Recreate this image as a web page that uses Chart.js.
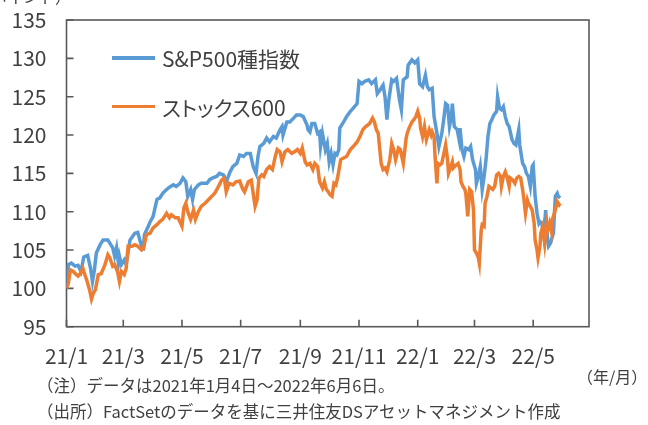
<!DOCTYPE html>
<html><head><meta charset="utf-8">
<script src="https://cdn.jsdelivr.net/npm/chart.js@4.4.1/dist/chart.umd.min.js"></script>
<style>
html,body{margin:0;padding:0;background:#fff;}
#wrap{position:relative;width:648px;height:425px;overflow:hidden;font-family:"Noto Sans CJK JP",sans-serif;color:#404040;}
canvas{position:absolute;left:0;top:0;}
.note{position:absolute;white-space:nowrap;font-size:16.5px;line-height:20px;}
.lg{position:absolute;left:112px;height:28px;display:flex;align-items:center;font-size:21px;font-feature-settings:"palt";white-space:nowrap;}
.sw{display:inline-block;width:43px;height:3.5px;margin-right:7px;}
</style></head>
<body><div id="wrap"><canvas id="c" width="648" height="425"></canvas>
<div class="note" id="unit" style="left:-25px;top:-12px;line-height:16px;font-size:16px;">（ポイント）</div>
<div class="note" id="xunit" style="left:577px;top:366px;font-size:16px;">（年/月）</div>
<div class="note" id="n1" style="left:37px;top:375px;">（注）データは2021年1月4日～2022年6月6日。</div>
<div class="note" id="n2" style="left:37px;top:401px;">（出所）FactSetのデータを基に三井住友DSアセットマネジメント作成</div>
<div id="legend"></div>
</div>
<script>
// days counted from 2021-01-04
const seriesNames = ['S&P500種指数', 'ストックス600'];
const tickDays = [0, 59, 120, 181, 243, 304, 365, 424, 485];
const tickLabels = ['21/1', '21/3', '21/5', '21/7', '21/9', '21/11', '22/1', '22/3', '22/5'];
const yTicks = [95, 100, 105, 110, 115, 120, 125, 130, 135];

const spDays = [0,2,5,9,12,15,18,22,25,27,29,31,35,38,43,46,48,50,52,54,55,57,60,62,66,71,74,78,80,81,85,87,90,94,97,100,104,107,111,114,118,121,124,126,129,131,133,137,140,146,149,152,156,159,163,166,170,173,177,180,184,187,191,194,197,199,201,205,208,211,215,218,222,224,225,229,232,236,239,243,246,250,251,253,255,258,261,263,264,266,269,271,273,275,277,279,281,283,284,288,291,295,298,302,304,307,310,314,317,321,323,326,329,331,333,335,338,340,343,346,348,350,354,355,359,362,365,367,370,373,375,377,380,382,385,387,390,392,394,396,398,400,401,403,406,408,409,411,413,415,418,420,422,425,426,428,430,432,434,436,438,440,442,444,447,448,450,452,454,456,458,460,463,465,467,470,471,474,476,478,480,482,484,485,487,489,491,492,494,496,498,500,501,503,505,506,508,510,511,513];
const spValues = [100.0,103.1,103.3,102.9,103.0,102.2,104.1,104.3,102.6,100.9,102.4,104.6,105.7,106.3,106.3,105.7,105.3,104.2,105.3,103.3,104.2,103.1,103.7,103.1,106.3,107.2,107.3,105.5,105.3,107.0,108.1,108.7,109.4,111.6,111.8,112.4,112.9,113.2,113.5,113.3,113.7,114.4,113.9,112.0,112.9,111.6,112.9,113.5,113.7,113.7,114.2,114.4,114.6,115.0,114.8,113.9,115.2,115.9,116.3,117.4,117.2,117.6,117.6,115.9,115.0,117.2,118.5,118.9,119.6,119.1,119.8,119.6,120.7,121.1,120.0,121.7,121.7,122.2,122.6,122.6,122.4,121.3,120.7,120.4,121.5,121.5,120.2,120.4,118.5,120.2,118.1,118.9,116.5,117.6,116.1,117.6,117.4,118.1,120.9,121.7,122.4,123.1,123.5,124.1,127.0,126.7,127.0,127.2,126.7,127.2,125.4,125.9,126.5,125.0,122.0,124.6,127.2,127.0,127.4,124.6,123.3,127.2,127.6,129.1,129.8,129.4,129.8,126.7,126.3,127.8,126.3,125.9,126.1,122.4,120.2,118.5,120.2,122.0,124.1,123.9,121.1,122.4,124.1,121.1,120.7,119.4,120.9,118.1,117.2,118.3,118.1,118.5,116.8,115.5,113.7,114.6,115.9,112.9,114.6,116.8,119.8,121.5,122.0,122.6,123.1,125.0,123.5,123.3,123.7,122.4,121.5,121.1,119.4,118.9,118.7,120.7,118.7,116.3,115.9,115.0,114.6,113.3,115.9,116.1,112.0,109.8,108.5,108.7,108.5,106.8,110.2,106.3,105.5,105.9,106.8,107.2,112.0,112.4,112.0,111.8];

const stoxxDays = [0,2,4,7,10,12,15,17,19,21,24,26,28,30,33,36,40,43,45,48,50,53,55,57,60,62,64,68,71,74,78,80,83,87,90,94,97,100,104,107,109,113,116,120,122,124,126,129,132,134,137,140,144,147,151,154,158,161,164,166,169,173,176,180,183,185,189,192,196,198,200,203,205,208,211,214,217,219,222,224,227,230,234,237,240,243,245,248,250,253,256,258,261,263,266,268,270,272,274,276,278,280,282,285,288,291,295,298,302,305,308,311,315,318,320,322,324,327,329,331,333,336,338,340,342,345,347,350,353,354,356,359,361,363,365,367,368,370,372,374,377,379,380,382,383,385,386,388,390,393,394,396,397,399,401,402,405,407,409,410,412,414,415,417,418,419,421,423,424,426,428,429,431,432,434,435,437,439,441,443,445,447,449,451,452,454,456,458,460,461,464,466,468,470,472,474,475,477,479,480,482,484,486,487,489,490,492,493,495,497,499,500,502,504,505,507,509,510,512,513];
const stoxxValues = [100.0,100.7,102.4,102.2,101.8,101.6,102.0,102.6,101.8,101.1,99.8,98.6,99.4,99.8,101.8,101.9,103.1,104.4,104.0,102.9,103.1,102.2,100.9,102.2,101.8,102.6,105.5,105.5,105.7,105.5,105.0,105.2,107.0,107.2,107.9,108.3,108.7,109.0,109.8,109.2,109.6,109.2,109.2,108.1,110.5,111.1,110.0,109.0,110.2,109.0,110.0,110.7,111.1,111.5,112.0,112.4,113.3,114.1,114.4,112.6,113.7,113.5,113.9,114.0,113.0,112.6,113.9,114.1,110.7,111.5,114.4,114.8,114.6,115.5,115.9,115.5,117.2,118.1,117.8,116.5,117.8,118.1,117.6,117.8,118.1,117.6,118.3,116.5,116.1,116.3,115.5,116.3,115.9,113.9,113.1,113.9,112.9,112.6,112.2,112.0,113.7,113.5,114.6,116.8,117.0,117.2,118.1,118.5,119.1,119.8,120.7,121.1,121.5,122.2,121.7,120.7,120.2,116.3,115.5,115.7,115.2,116.8,118.9,118.1,116.8,118.3,118.1,116.3,119.6,120.2,120.9,121.7,122.0,122.4,123.1,122.2,120.9,119.8,121.1,119.4,120.7,120.0,120.4,119.8,117.2,113.7,116.3,116.1,116.3,118.1,118.7,116.8,115.0,115.7,116.5,115.7,116.1,116.3,115.5,113.9,113.3,112.9,112.4,109.4,111.1,112.9,112.6,110.2,105.0,104.6,104.0,103.3,107.6,108.3,108.1,111.1,112.0,113.3,113.1,112.9,113.3,114.8,115.0,114.6,113.3,114.6,115.2,114.4,113.3,114.4,114.1,113.7,114.4,114.6,114.4,112.9,112.0,109.8,111.5,111.1,110.7,110.2,108.5,106.3,105.0,104.0,105.5,107.2,108.1,105.9,108.3,107.6,108.5,107.4,109.0,109.8,110.7,111.3,110.9,111.1];

const AXIS_COLOR = '#595959';
const TEXT_COLOR = '#404040';
const FONT = '"Noto Sans CJK JP", sans-serif';

const framePlugin = {
  id: 'frame',
  beforeDatasetsDraw(chart) {
    const {ctx, chartArea: a, scales: {x, y}} = chart;
    ctx.save();
    ctx.strokeStyle = AXIS_COLOR;
    ctx.lineWidth = 1.6;
    ctx.strokeRect(a.left, a.top, a.right - a.left, a.bottom - a.top);
    ctx.beginPath();
    y.ticks.forEach(t => { const py = y.getPixelForValue(t.value); ctx.moveTo(a.left, py); ctx.lineTo(a.left + 7, py); });
    x.ticks.forEach(t => { const px = x.getPixelForValue(t.value); ctx.moveTo(px, a.bottom); ctx.lineTo(px, a.bottom - 7); });
    ctx.stroke();
    ctx.restore();
  }
};

function zeroPad(s) { s.paddingTop = 0; s.paddingBottom = 0; s.paddingLeft = 0; s.paddingRight = 0; }

const chart = new Chart(document.getElementById('c').getContext('2d'), {
  type: 'line',
  data: {
    datasets: [
      { label: seriesNames[0], data: spDays.map((d, i) => ({x: d, y: spValues[i]})),
        borderColor: '#5B9BD5', backgroundColor: '#5B9BD5', borderWidth: 3.5, pointRadius: 0, tension: 0, fill: false, order: 2 },
      { label: seriesNames[1], data: stoxxDays.map((d, i) => ({x: d, y: stoxxValues[i]})),
        borderColor: '#ED7D31', backgroundColor: '#ED7D31', borderWidth: 3.5, pointRadius: 0, tension: 0, fill: false, order: 1 }
    ]
  },
  options: {
    responsive: false, maintainAspectRatio: false, animation: false, devicePixelRatio: 1,
    layout: { padding: { top: 20, right: 59, left: 0, bottom: 0 } },
    plugins: { legend: { display: false }, title: { display: false }, tooltip: { enabled: false } },
    scales: {
      x: {
        type: 'linear', min: 0, max: 543,
        grid: { display: false, drawTicks: false }, border: { display: false },
        afterBuildTicks: s => { s.ticks = tickDays.map(v => ({value: v})); },
        afterFit: s => { s.height = 98.3; zeroPad(s); },
        ticks: { autoSkip: false, maxRotation: 0, minRotation: 0, padding: 17, color: TEXT_COLOR,
          font: { family: FONT, size: 21 }, callback: (v, i) => tickLabels[i] }
      },
      y: {
        min: 95, max: 135,
        grid: { display: false, drawTicks: false }, border: { display: false },
        afterBuildTicks: s => { s.ticks = yTicks.map(v => ({value: v})); },
        afterFit: s => { s.width = 66.5; zeroPad(s); },
        ticks: { padding: 20, color: TEXT_COLOR, font: { family: FONT, size: 21 } }
      }
    }
  },
  plugins: [framePlugin]
});

const legendEl = document.getElementById('legend');
chart.data.datasets.forEach((ds, i) => {
  const row = document.createElement('div');
  row.className = 'lg';
  row.style.top = (44 + i * 48.5) + 'px';
  const sw = document.createElement('span');
  sw.className = 'sw';
  sw.style.background = ds.borderColor;
  const tx = document.createElement('span');
  tx.textContent = ds.label;
  row.appendChild(sw); row.appendChild(tx);
  legendEl.appendChild(row);
});
</script>
</body></html>
